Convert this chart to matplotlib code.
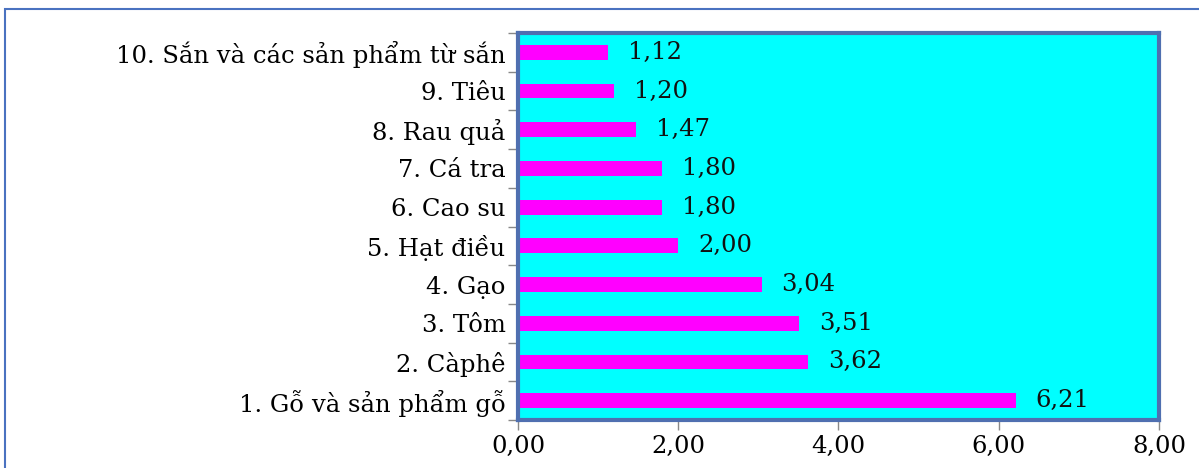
import matplotlib
matplotlib.use('Agg')
import matplotlib.pyplot as plt
from matplotlib.patches import Rectangle
from matplotlib.ticker import FixedLocator

categories = ['1. Gỗ và sản phẩm gỗ', '2. Càphê', '3. Tôm', '4. Gạo', '5. Hạt điều',
              '6. Cao su', '7. Cá tra', '8. Rau quả', '9. Tiêu',
              '10. Sắn và các sản phẩm từ sắn']
values = [6.21, 3.62, 3.51, 3.04, 2.00, 1.80, 1.80, 1.47, 1.20, 1.12]
xticks = [0, 2, 4, 6, 8]

plt.rcParams['font.family'] = ['DejaVu Serif']
fs = 17.5

fig = plt.figure(figsize=(11.99, 4.68), dpi=100)
ax = fig.add_axes([518/1199, 1 - 420/468, (1159-518)/1199, (420-33)/468])

# outer frame of the picture
fig.patches.append(Rectangle((5/1199, -0.1), 1.2, (468-9)/468 + 0.1, transform=fig.transFigure,
                             fill=False, edgecolor='#4a72c0', linewidth=1.5))

border = '#4f6fb0'
ax.set_facecolor('#00ffff')
ax.barh(range(len(values)), values, height=0.38, color='#ff00ff', zorder=2)

for i, v in enumerate(values):
    ax.text(v + 0.25, i, ('%.2f' % v).replace('.', ','), va='center', ha='left',
            fontsize=fs, color='#111111')

ax.set_xlim(0, 8)
ax.set_ylim(-0.5, len(values) - 0.5)
ax.set_xticks(xticks)
ax.set_xticklabels([('%.2f' % t).replace('.', ',') for t in xticks], fontsize=fs)
ax.set_yticks(range(len(values)))
ax.set_yticklabels(categories, fontsize=fs)
ax.tick_params(axis='y', length=0, pad=9)
ax.yaxis.set_minor_locator(FixedLocator([i - 0.5 for i in range(len(values) + 1)]))
ax.tick_params(axis='y', which='minor', length=7, color='#888888', width=1)
ax.tick_params(axis='x', length=7, color='#888888', width=1, pad=4)

for side in ['top', 'right', 'bottom', 'left']:
    ax.spines[side].set_color(border)
    ax.spines[side].set_linewidth(3)

fig.savefig('out.png', dpi=100, facecolor='white')
